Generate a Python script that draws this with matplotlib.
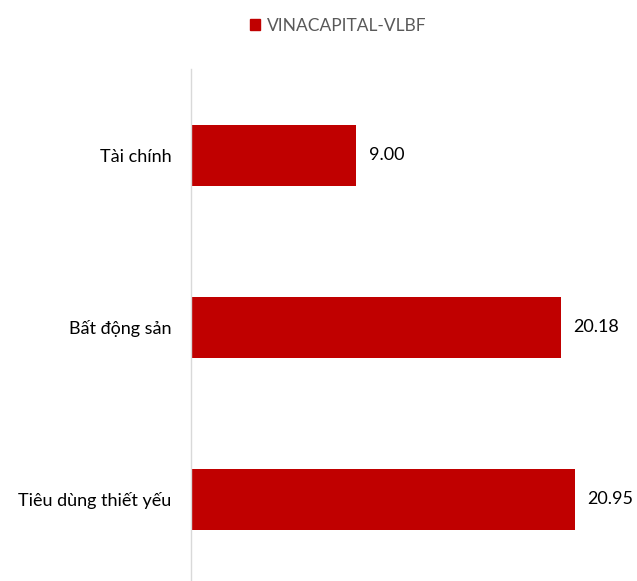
import matplotlib.pyplot as plt
from matplotlib.patches import Patch

categories = ['Tài chính', 'Bất động sản', 'Tiêu dùng thiết yếu']
values = [9.00, 20.18, 20.95]
series_name = 'VINACAPITAL-VLBF'

plt.rcParams['font.family'] = ['Lato', 'DejaVu Sans']

W, H = 637, 581
fig = plt.figure(figsize=(W / 100, H / 100), dpi=100)
# plot area: left edge at x=191, top at y=69, runs to the bottom/right edge
ax = fig.add_axes([191 / W, 0, 1 - 191 / W, 1 - 69 / H])

red = '#C00000'
pos = list(range(len(categories)))
ax.barh(pos, values, height=0.355, color=red)

px_per_unit = (356 - 191) / 9.0
ax.set_xlim(0, (W - 191) / px_per_unit)
ax.set_ylim(2.477, -0.503)

for p, v in zip(pos, values):
    ax.annotate(f'{v:.2f}', (v, p), xytext=(9, 0), textcoords='offset points',
                va='center', ha='left', fontsize=13, color='#000000')

ax.set_yticks(pos)
ax.set_yticklabels(categories, fontsize=13, color='#000000')
ax.tick_params(axis='y', length=0, pad=14)
ax.set_xticks([])

for s in ['top', 'right', 'bottom']:
    ax.spines[s].set_visible(False)
ax.spines['left'].set_color('#D9D9D9')
ax.spines['left'].set_linewidth(1.0)

fig.legend(handles=[Patch(color=red, label=series_name)], loc='center',
           bbox_to_anchor=(338 / W, 1 - 26 / H), frameon=False, fontsize=12.5,
           handlelength=0.6, handleheight=0.6, handletextpad=0.35,
           labelcolor='#595959')

fig.savefig('out.png', dpi=100)
